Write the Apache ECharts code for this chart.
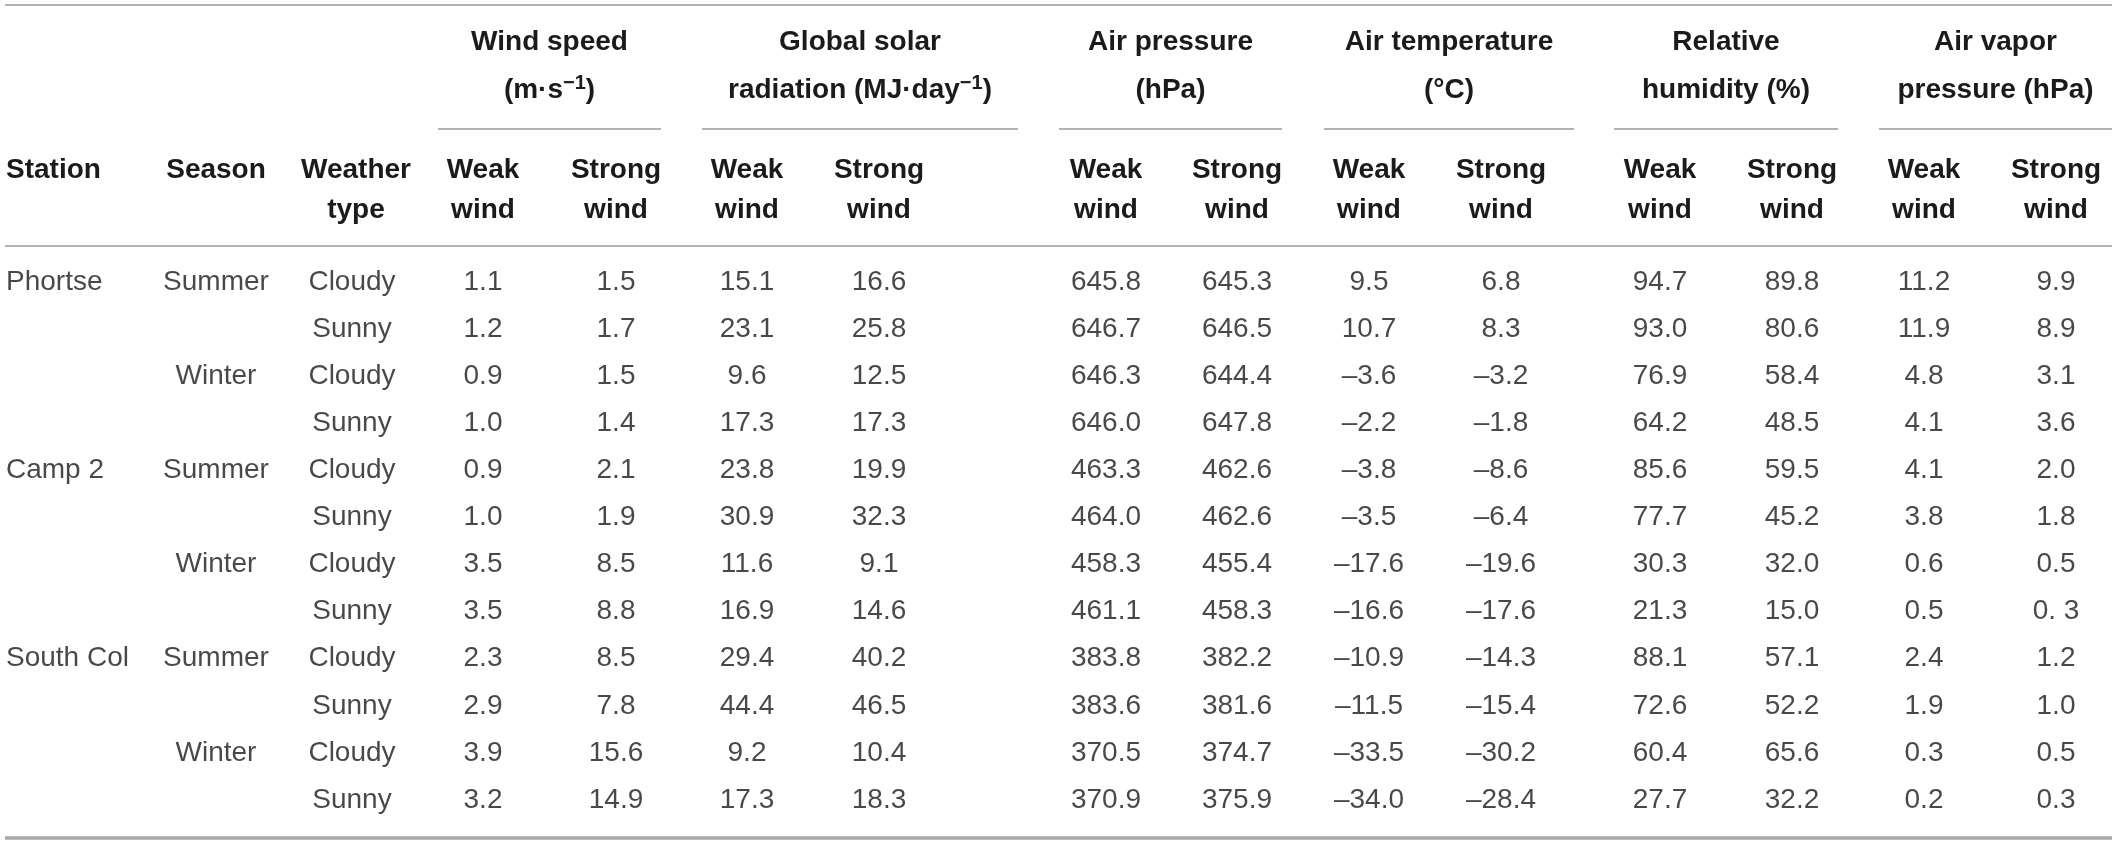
<!DOCTYPE html>
<html>
<head>
<meta charset="utf-8">
<script src="https://cdn.jsdelivr.net/npm/echarts@6/dist/echarts.min.js"></script>
<style>
  html, body { margin: 0; padding: 0; background: #fff; }
  #main { width: 2117px; height: 843px; }
</style>
</head>
<body>
<div id="main"></div>
<script>
const stations = ['Phortse', 'Camp 2', 'South Col'];
const seasons = ['Summer', 'Winter'];
const weatherTypes = ['Cloudy', 'Sunny'];
const windClasses = ['Weak\nwind', 'Strong\nwind'];
const variableNames = [
  ['Wind speed', '(m·s{sup|−1})'],
  ['Global solar', 'radiation (MJ·day{sup|−1})'],
  ['Air pressure', '(hPa)'],
  ['Air temperature', '(°C)'],
  ['Relative', 'humidity (%)'],
  ['Air vapor', 'pressure (hPa)']
];

const windSpeedWeak     = [1.1, 1.2, 0.9, 1.0, 0.9, 1.0, 3.5, 3.5, 2.3, 2.9, 3.9, 3.2];
const windSpeedStrong   = [1.5, 1.7, 1.5, 1.4, 2.1, 1.9, 8.5, 8.8, 8.5, 7.8, 15.6, 14.9];
const solarWeak         = [15.1, 23.1, 9.6, 17.3, 23.8, 30.9, 11.6, 16.9, 29.4, 44.4, 9.2, 17.3];
const solarStrong       = [16.6, 25.8, 12.5, 17.3, 19.9, 32.3, 9.1, 14.6, 40.2, 46.5, 10.4, 18.3];
const pressureWeak      = [645.8, 646.7, 646.3, 646.0, 463.3, 464.0, 458.3, 461.1, 383.8, 383.6, 370.5, 370.9];
const pressureStrong    = [645.3, 646.5, 644.4, 647.8, 462.6, 462.6, 455.4, 458.3, 382.2, 381.6, 374.7, 375.9];
const temperatureWeak   = [9.5, 10.7, -3.6, -2.2, -3.8, -3.5, -17.6, -16.6, -10.9, -11.5, -33.5, -34.0];
const temperatureStrong = [6.8, 8.3, -3.2, -1.8, -8.6, -6.4, -19.6, -17.6, -14.3, -15.4, -30.2, -28.4];
const humidityWeak      = [94.7, 93.0, 76.9, 64.2, 85.6, 77.7, 30.3, 21.3, 88.1, 72.6, 60.4, 27.7];
const humidityStrong    = [89.8, 80.6, 58.4, 48.5, 59.5, 45.2, 32.0, 15.0, 57.1, 52.2, 65.6, 32.2];
const vaporWeak         = [11.2, 11.9, 4.8, 4.1, 4.1, 3.8, 0.6, 0.5, 2.4, 1.9, 0.3, 0.2];
const vaporStrong       = [9.9, 8.9, 3.1, 3.6, 2.0, 1.8, 0.5, 0.3, 1.2, 1.0, 0.5, 0.3];

const valueColumns = [
  windSpeedWeak, windSpeedStrong, solarWeak, solarStrong,
  pressureWeak, pressureStrong, temperatureWeak, temperatureStrong,
  humidityWeak, humidityStrong, vaporWeak, vaporStrong
];
// the printed table has a stray space in one cell
const textOverrides = { '11-7': '0. 3' };

// ---- layout (pixels) ----
const W = 2117, H = 843;
const stationX = 6;
const seasonX = 216, weatherX = 352;
const valueX = [483, 616, 747, 879, 1106, 1237, 1369, 1501, 1660, 1792, 1924, 2056];
const groupSpans = [[438, 661], [702, 1018], [1059, 1282], [1324, 1574], [1614, 1838], [1879, 2112]];
const ink = '#1c1a1b';
const ruleColor = '#9a9a9a';
const fontFamily = '"Liberation Sans", Arial, Helvetica, sans-serif';

// rows = station x season x weather type
const rowKeys = [];
stations.forEach(st => seasons.forEach(se => weatherTypes.forEach(wt => rowKeys.push(st + '|' + se + '|' + wt))));

function fmt(v) {
  return v < 0 ? '–' + Math.abs(v).toFixed(1) : v.toFixed(1);
}

function textSeries(name, points, align) {
  return {
    name: name,
    type: 'scatter',
    symbolSize: 1,
    silent: true,
    itemStyle: { color: 'transparent' },
    label: {
      show: true,
      position: 'inside',
      align: align || 'center',
      verticalAlign: 'middle',
      color: ink,
      fontSize: 28,
      fontFamily: fontFamily,
      formatter: p => p.name
    },
    data: points
  };
}

const series = [];
series.push(textSeries('station',
  stations.map((s, i) => ({ name: s, value: [stationX, i * 4] })), 'left'));
series.push(textSeries('season',
  rowKeys.map((k, r) => r % 2 === 0 ? { name: k.split('|')[1], value: [seasonX, r] } : null).filter(Boolean)));
series.push(textSeries('weather',
  rowKeys.map((k, r) => ({ name: k.split('|')[2], value: [weatherX, r] }))));
valueColumns.forEach((col, c) => {
  series.push(textSeries('col' + c,
    col.map((v, r) => ({ name: textOverrides[c + '-' + r] || fmt(v), value: [valueX[c], r] }))));
});

// ---- header and rules ----
const graphic = [];
function hline(x1, x2, y, w, color) {
  graphic.push({ type: 'line', silent: true, shape: { x1: x1, y1: y, x2: x2, y2: y },
    style: { stroke: color || ruleColor, lineWidth: w } });
}
function htext(txt, x, y, align, extra) {
  graphic.push({ type: 'text', silent: true, x: x, y: y,
    style: Object.assign({ text: txt, fill: ink, fontSize: 28, fontWeight: 'bold', fontFamily: fontFamily,
      align: align || 'center', verticalAlign: 'middle', lineHeight: 40 }, extra || {}) });
}

hline(5, 2112, 5, 1.5);
hline(5, 2112, 246, 1.5);
hline(5, 2112, 838, 3.5, '#a8a8a8');

htext('Station', stationX, 170, 'left');
htext('Season', seasonX, 170);
htext('Weather\ntype', weatherX + 4, 190);

variableNames.forEach((nm, g) => {
  const span = groupSpans[g];
  const cx = (span[0] + span[1]) / 2;
  hline(span[0], span[1], 129, 1.5);
  htext(nm[0], cx, 42);
  htext(nm[1], cx, 90, 'center', {
    lineHeight: 34,
    rich: { sup: { fontSize: 20, fontWeight: 'bold', fontFamily: fontFamily, fill: ink, verticalAlign: 'top', lineHeight: 20 } }
  });
});
valueX.forEach((x, c) => htext(windClasses[c % 2], x, 190));

const chart = echarts.init(document.getElementById('main'), null, { renderer: 'canvas' });
chart.setOption({
  animation: false,
  backgroundColor: '#fff',
  grid: { left: 0, right: 0, top: 258.5, height: 565 },
  xAxis: { type: 'value', min: 0, max: W, show: false },
  yAxis: { type: 'category', data: rowKeys, inverse: true, show: false },
  graphic: graphic,
  series: series
});
</script>
</body>
</html>
